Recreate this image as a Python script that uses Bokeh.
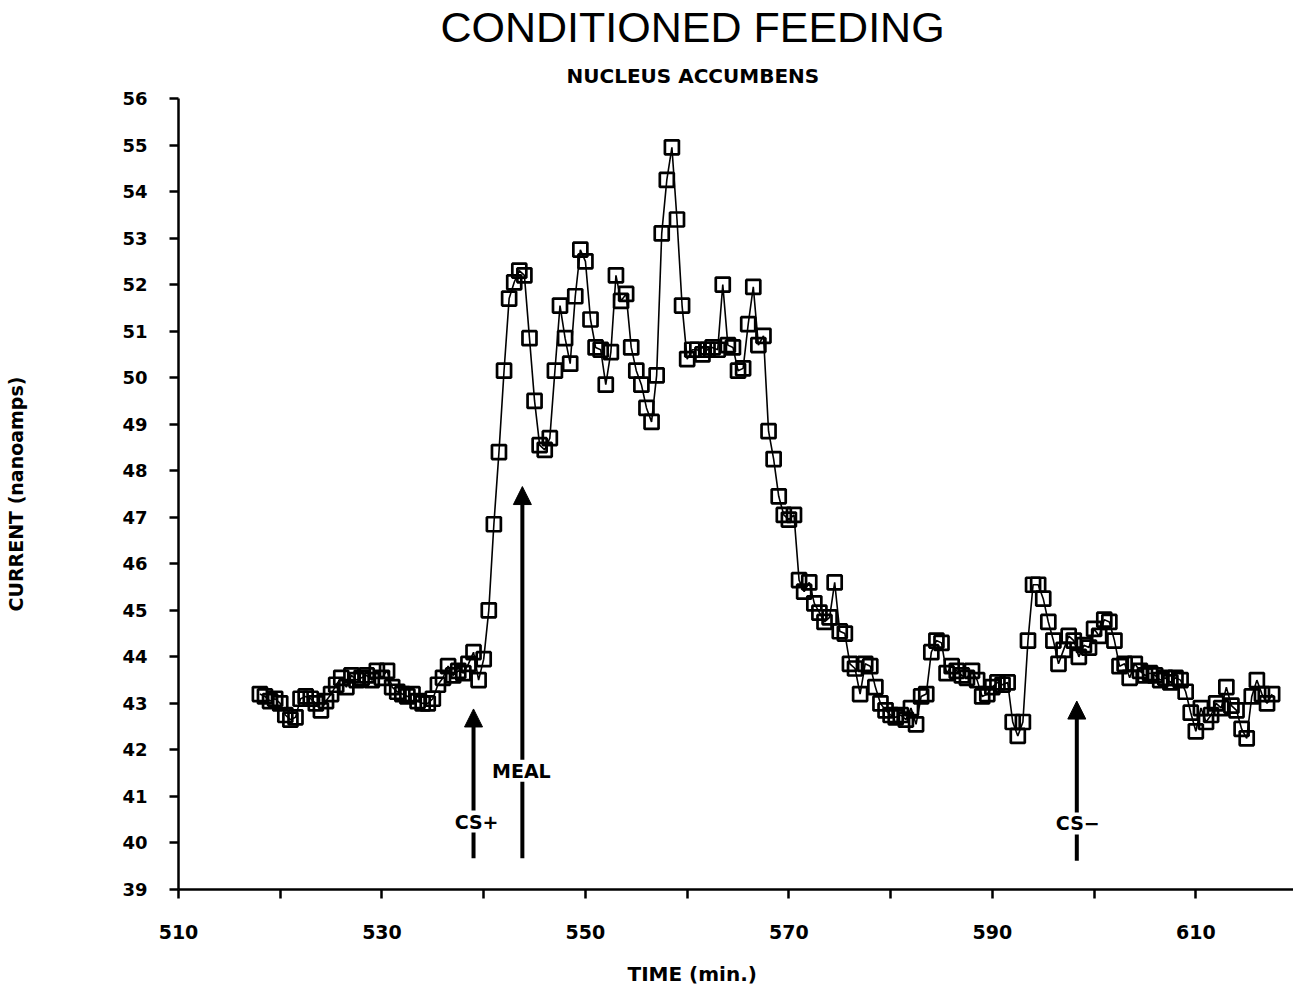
from bokeh.plotting import figure
from bokeh.models import Label, Arrow, NormalHead, FixedTicker, Range1d, Title
from bokeh.embed import file_html
from bokeh.resources import INLINE

# ---- data ----
times = [
    518.0, 518.5, 519.0, 519.5, 520.0, 520.5, 521.0, 521.5, 522.0, 522.5,
    523.0, 523.5, 524.0, 524.5, 525.0, 525.5, 526.0, 526.5, 527.0, 527.5,
    528.0, 528.5, 529.0, 529.5, 530.0, 530.5, 531.0, 531.5, 532.0, 532.5,
    533.0, 533.5, 534.0, 534.5, 535.0, 535.5, 536.0, 536.5, 537.0, 537.5,
    538.0, 538.5, 539.0, 539.5, 540.0, 540.5, 541.0, 541.5, 542.0, 542.5,
    543.0, 543.5, 544.0, 544.5, 545.0, 545.5, 546.0, 546.5, 547.0, 547.5,
    548.0, 548.5, 549.0, 549.5, 550.0, 550.5, 551.0, 551.5, 552.0, 552.5,
    553.0, 553.5, 554.0, 554.5, 555.0, 555.5, 556.0, 556.5, 557.0, 557.5,
    558.0, 558.5, 559.0, 559.5, 560.0, 560.5, 561.0, 561.5, 562.0, 562.5,
    563.0, 563.5, 564.0, 564.5, 565.0, 565.5, 566.0, 566.5, 567.0, 567.5,
    568.0, 568.5, 569.0, 569.5, 570.0, 570.5, 571.0, 571.5, 572.0, 572.5,
    573.0, 573.5, 574.0, 574.5, 575.0, 575.5, 576.0, 576.5, 577.0, 577.5,
    578.0, 578.5, 579.0, 579.5, 580.0, 580.5, 581.0, 581.5, 582.0, 582.5,
    583.0, 583.5, 584.0, 584.5, 585.0, 585.5, 586.0, 586.5, 587.0, 587.5,
    588.0, 588.5, 589.0, 589.5, 590.0, 590.5, 591.0, 591.5, 592.0, 592.5,
    593.0, 593.5, 594.0, 594.5, 595.0, 595.5, 596.0, 596.5, 597.0, 597.5,
    598.0, 598.5, 599.0, 599.5, 600.0, 600.5, 601.0, 601.5, 602.0, 602.5,
    603.0, 603.5, 604.0, 604.5, 605.0, 605.5, 606.0, 606.5, 607.0, 607.5,
    608.0, 608.5, 609.0, 609.5, 610.0, 610.5, 611.0, 611.5, 612.0, 612.5,
    613.0, 613.5, 614.0, 614.5, 615.0, 615.5, 616.0, 616.5, 617.0, 617.5,
]
current = [
    43.2, 43.15, 43.05, 43.1, 43.0, 42.75, 42.65, 42.7, 43.1, 43.15,
    43.1, 43.0, 42.85, 43.05, 43.2, 43.4, 43.55, 43.35, 43.6, 43.5,
    43.55, 43.6, 43.5, 43.7, 43.55, 43.7, 43.35, 43.25, 43.2, 43.15,
    43.2, 43.05, 43.0, 43.0, 43.1, 43.4, 43.55, 43.8, 43.6, 43.7,
    43.65, 43.85, 44.1, 43.5, 43.95, 45.0, 46.85, 48.4, 50.15, 51.7,
    52.05, 52.3, 52.2, 50.85, 49.5, 48.55, 48.45, 48.7, 50.15, 51.55,
    50.85, 50.3, 51.75, 52.75, 52.5, 51.25, 50.65, 50.6, 49.85, 50.55,
    52.2, 51.65, 51.8, 50.65, 50.15, 49.85, 49.35, 49.05, 50.05, 53.1,
    54.25, 54.95, 53.4, 51.55, 50.4, 50.6, 50.6, 50.5, 50.6, 50.65,
    50.6, 52.0, 50.7, 50.65, 50.15, 50.2, 51.15, 51.95, 50.7, 50.9,
    48.85, 48.25, 47.45, 47.05, 46.95, 47.05, 45.65, 45.4, 45.6, 45.15,
    44.95, 44.75, 44.85, 45.6, 44.55, 44.5, 43.85, 43.75, 43.2, 43.85,
    43.8, 43.35, 43.0, 42.85, 42.75, 42.7, 42.75, 42.65, 42.9, 42.55,
    43.15, 43.2, 44.1, 44.35, 44.3, 43.65, 43.8, 43.7, 43.6, 43.55,
    43.7, 43.5, 43.15, 43.2, 43.35, 43.45, 43.4, 43.45, 42.6, 42.3,
    42.6, 44.35, 45.55, 45.55, 45.25, 44.75, 44.35, 43.85, 44.15, 44.45,
    44.35, 44.0, 44.25, 44.2, 44.6, 44.45, 44.8, 44.75, 44.35, 43.8,
    43.85, 43.55, 43.85, 43.7, 43.6, 43.65, 43.6, 43.5, 43.55, 43.45,
    43.55, 43.5, 43.25, 42.8, 42.4, 42.9, 42.6, 42.75, 43.0, 42.9,
    43.35, 42.95, 42.85, 42.45, 42.25, 43.15, 43.5, 43.2, 43.0, 43.2,
]
x_tick_labels = [510, 530, 550, 570, 590, 610]
x_minor = [520, 540, 560, 580, 600]
y_ticks = list(range(39, 57))

title_text = "CONDITIONED FEEDING"
subtitle_text = "NUCLEUS ACCUMBENS"
x_label = "TIME (min.)"
y_label = "CURRENT (nanoamps)"

events = ["CS+", "MEAL", "CS\u2212"]
event_time = [539.0, 543.8, 598.3]
event_top = [42.88, 47.66, 43.05]
event_bottom = [39.67, 39.67, 39.62]
event_label_x = [539.3, 543.7, 598.4]
event_label_y = [40.46, 41.55, 40.42]

BOLD = "DejaVu Sans"

p = figure(width=1293, height=1005, output_backend="svg", toolbar_location=None,
           x_range=Range1d(510, 619.6), y_range=Range1d(39, 56),
           min_border_left=178, min_border_right=0, min_border_top=96,
           min_border_bottom=116)
p.outline_line_color = None
p.grid.visible = False
p.background_fill_color = "white"
p.border_fill_color = "white"

p.line(times, current, line_color="black", line_width=1.6)
p.scatter(times, current, marker="square", size=14, fill_color=None,
          line_color="black", line_width=2.7)

# main axes
xa = p.xaxis[0]
xa.ticker = FixedTicker(ticks=x_tick_labels, minor_ticks=x_minor)
xa.axis_line_width = 2.5
xa.major_tick_line_width = 2.5
xa.minor_tick_line_width = 2.5
xa.major_tick_out = 9
xa.major_tick_in = 0
xa.minor_tick_out = 9
xa.minor_tick_in = 0
xa.major_label_text_font = BOLD
xa.major_label_text_font_style = "bold"
xa.major_label_text_font_size = "19px"
xa.major_label_text_color = "black"
xa.major_label_standoff = 26

ya = p.yaxis[0]
ya.ticker = FixedTicker(ticks=y_ticks)
ya.axis_line_width = 2.5
ya.major_tick_line_width = 2.5
ya.major_tick_out = 9
ya.major_tick_in = 0
ya.minor_tick_line_color = None
ya.major_label_text_font = BOLD
ya.major_label_text_font_style = "bold"
ya.major_label_text_font_size = "18px"
ya.major_label_text_color = "black"
ya.major_label_standoff = 22
ya.axis_label = y_label
ya.axis_label_text_font = BOLD
ya.axis_label_text_font_style = "bold"
ya.axis_label_text_font_size = "19px"
ya.axis_label_text_color = "black"
ya.axis_label_standoff = 92

# titles (left-aligned with offsets so they are centred as in the original)
p.add_layout(Title(text=x_label, align="left", offset=449, standoff=36,
                   text_font=BOLD, text_font_style="bold", text_font_size="20px",
                   text_color="black"), "below")
p.add_layout(Title(text=subtitle_text, align="left", offset=388, standoff=22,
                   text_font=BOLD, text_font_style="bold", text_font_size="20px",
                   text_color="black"), "above")
p.add_layout(Title(text=title_text, align="left", offset=262, standoff=0,
                   text_font="Liberation Sans", text_font_style="normal",
                   text_font_size="43px", text_color="black"), "above")

# arrows and event labels
for t, top, bot in zip(event_time, event_top, event_bottom):
    p.add_layout(Arrow(end=NormalHead(size=18, fill_color="black", line_color="black", line_width=1),
                       x_start=t, y_start=bot, x_end=t, y_end=top,
                       line_color="black", line_width=4))
for txt, lx, ly in zip(events, event_label_x, event_label_y):
    p.add_layout(Label(x=lx, y=ly, text=txt, text_align="center", text_baseline="middle",
                       text_font=BOLD, text_font_style="bold", text_font_size="19px",
                       background_fill_color="white", text_color="black"))

open("out.html", "w").write(file_html(p, INLINE))
